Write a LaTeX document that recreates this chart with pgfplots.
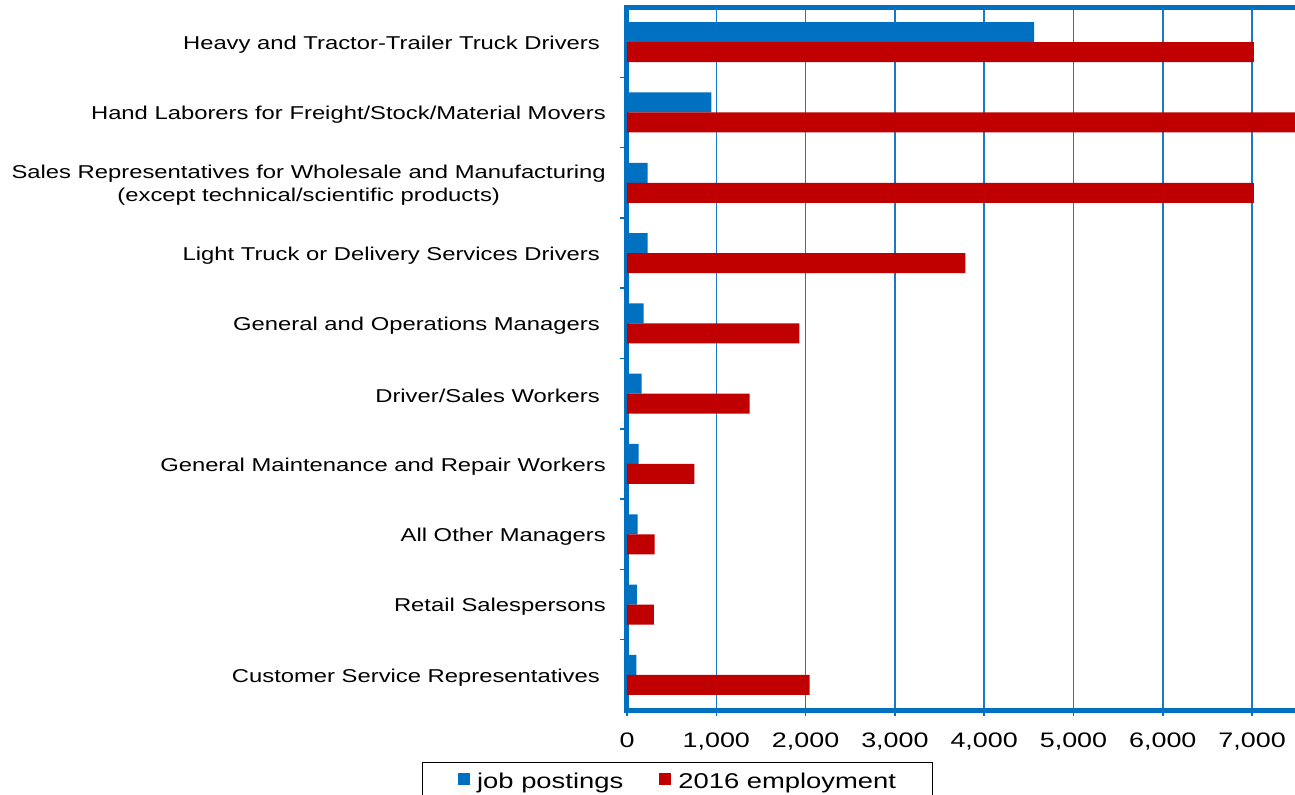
\documentclass[border=0pt]{standalone}
\usepackage{pgfplots}
\pgfplotsset{compat=1.18}
\usepackage{fontspec}
\setmainfont{Liberation Sans}[FakeStretch=1.28]
\definecolor{barblue}{RGB}{0,112,192}
\definecolor{barred}{RGB}{192,0,0}
\definecolor{gridblue}{RGB}{25,120,200}
\pgfplotsset{sqlegend/.style={legend image code/.code={\fill[##1] (0bp,-4bp) rectangle (12bp,8bp);}}}
\begin{document}
\begin{tikzpicture}
\path[use as bounding box, clip] (-627bp,-85bp) rectangle (668bp,710bp);
\begin{axis}[
  scale only axis, width=680bp, height=703bp,
  xbar, bar width=20bp,
  xmin=0, xmax=7615, ymin=-0.5, ymax=9.5,
  ytick={0,...,9},
  yticklabels={Customer Service Representatives\hspace{6bp}, Retail Salespersons, All Other Managers, General Maintenance and Repair Workers, Driver/Sales Workers\hspace{6bp}, General and Operations Managers\hspace{6bp}, Light Truck or Delivery Services Drivers\hspace{6bp}, {Sales Representatives for Wholesale and Manufacturing\\(except technical/scientific products)}, Hand Laborers for Freight/Stock/Material Movers, Heavy and Tractor-Trailer Truck Drivers\hspace{6bp}},
  minor ytick={0.5,1.5,...,8.5},
  xtick={0,1000,...,7000},
  xmajorgrids, grid style={gridblue, line width=1.5bp},
  axis line style={barblue, line width=5bp},
  tick style={barblue, line width=1.5bp},
  major y tick style={draw=none},
  tick align=outside, tick pos=left,
  major tick length=6bp, minor tick length=7bp,
  /pgf/number format/.cd, 1000 sep={,}, assume math mode=true, /pgfplots/.cd,
  xticklabel style={font=\fontsize{21bp}{24bp}\selectfont, inner sep=0pt, yshift=-17bp},
  yticklabel style={font=\fontsize{18.6bp}{23bp}\selectfont, align=center, inner sep=0pt, xshift=-15bp, yshift=-2.5bp},
  legend columns=2,
  legend style={at={(-0.302,-0.074)}, anchor=north west, draw=black, line width=1bp,
    font=\fontsize{21.4bp}{24bp}\selectfont, inner xsep=36bp, inner ysep=10.4bp,
    nodes={inner sep=0pt},
    /tikz/every odd column/.append style={column sep=7bp},
    /tikz/every even column/.append style={column sep=36bp}},
]
\addplot[fill=barblue, draw=none, bar shift=10bp, sqlegend]
  coordinates {(4560,9) (944,8) (230,7) (230,6) (186,5) (165,4) (130,3) (120,2) (110,1) (104,0)};
\addplot[fill=barred, draw=none, bar shift=-10bp, sqlegend]
  coordinates {(7020,9) (8000,8) (7020,7) (3790,6) (1930,5) (1373,4) (755,3) (310,2) (300,1) (2045,0)};
\legend{job postings, 2016 employment}
\end{axis}
\end{tikzpicture}
\end{document}
